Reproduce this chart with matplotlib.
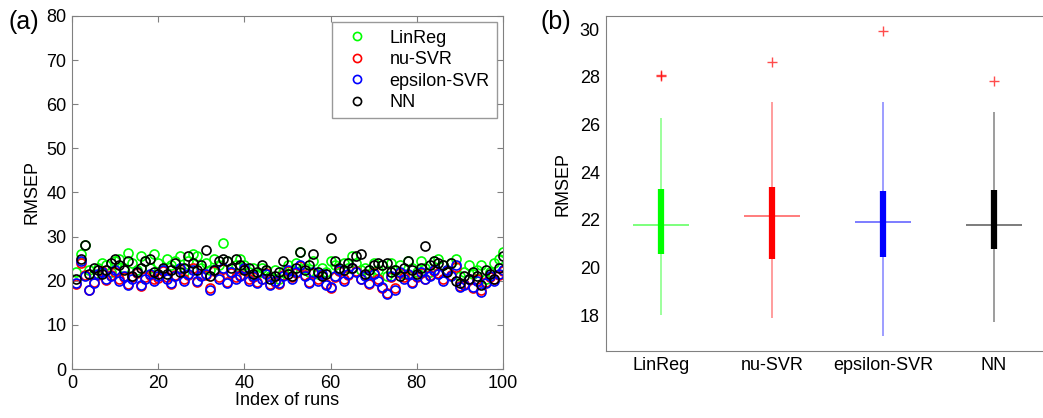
import numpy as np
import matplotlib
matplotlib.use("Agg")
import matplotlib.pyplot as plt

plt.rcParams['font.family'] = ['Liberation Sans', 'DejaVu Sans']

# ---- data ----
runs = np.arange(1, 101)

linreg = [22.0, 26.0, 28.1, 22.5, 21.5, 23.0, 24.0, 23.5, 22.0, 24.5,
          25.0, 23.0, 26.2, 24.0, 22.5, 25.5, 24.5, 23.0, 26.0, 24.0,
          22.5, 25.0, 23.5, 24.5, 25.5, 22.0, 24.5, 26.0, 25.5, 23.0,
          24.0, 22.5, 25.0, 23.5, 28.5, 24.5, 22.0, 23.5, 25.0, 23.5,
          22.0, 23.0, 21.5, 23.0, 22.5, 21.0, 22.5, 20.5, 22.0, 23.5,
          22.5, 24.0, 26.5, 23.0, 22.0, 24.5, 21.5, 23.0, 22.0, 24.5,
          23.5, 22.5, 24.0, 23.0, 25.5, 24.0, 22.5, 23.0, 21.5, 24.0,
          22.5, 23.5, 21.0, 24.0, 22.5, 23.5, 21.5, 24.5, 23.0, 22.0,
          24.5, 23.0, 22.0, 24.5, 25.0, 23.5, 22.5, 24.0, 25.0, 21.0,
          22.0, 23.5, 21.5, 22.5, 23.5, 20.5, 22.0, 24.0, 25.0, 26.5]

nu_svr = [19.3, 24.0, 21.2, 17.8, 19.8, 21.3, 22.3, 20.2, 21.3, 22.0,
          20.3, 20.8, 19.2, 20.8, 21.7, 18.8, 20.8, 21.2, 20.3, 20.7,
          22.2, 20.8, 19.3, 21.3, 22.7, 20.3, 21.2, 22.8, 19.8, 21.3,
          21.3, 18.3, 22.2, 20.8, 22.7, 19.7, 21.8, 20.8, 21.3, 22.7,
          20.3, 20.8, 19.8, 20.3, 21.8, 19.3, 19.8, 19.3, 21.3, 22.2,
          20.8, 21.8, 23.3, 21.3, 19.8, 21.8, 20.3, 21.3, 19.3, 18.3,
          20.8, 22.3, 20.3, 21.3, 22.8, 22.3, 20.3, 21.3, 19.3, 21.8,
          20.3, 18.3, 17.3, 20.8, 18.3, 21.8, 20.8, 21.3, 19.8, 20.8,
          21.8, 20.3, 21.3, 22.2, 21.8, 20.3, 22.2, 21.3, 23.2, 18.8,
          19.3, 20.3, 18.3, 20.3, 17.8, 19.8, 20.8, 20.3, 21.3, 22.3]

eps_svr = [19.5, 24.5, 21.0, 18.0, 19.5, 21.5, 22.0, 20.5, 21.0, 22.5,
           20.0, 21.0, 19.0, 20.5, 22.0, 19.0, 20.5, 21.5, 20.0, 21.0,
           22.5, 20.5, 19.5, 21.0, 23.0, 20.0, 21.5, 22.5, 20.0, 21.0,
           21.5, 18.0, 22.5, 20.5, 23.0, 19.5, 22.0, 20.5, 21.0, 23.0,
           20.0, 21.0, 19.5, 20.5, 21.5, 19.0, 20.0, 19.5, 21.0, 22.5,
           20.5, 22.0, 23.5, 21.0, 19.5, 22.0, 20.0, 21.5, 19.0, 18.5,
           21.0, 22.5, 20.0, 21.5, 23.0, 22.0, 20.5, 21.0, 19.5, 21.5,
           20.0, 18.5, 17.0, 21.0, 18.0, 22.0, 20.5, 21.5, 19.5, 21.0,
           22.0, 20.5, 21.0, 22.5, 21.5, 20.0, 22.5, 21.0, 23.5, 18.5,
           19.0, 20.5, 18.5, 20.0, 17.5, 19.5, 21.0, 20.0, 21.5, 22.5]

nn = [20.5, 25.0, 28.0, 21.5, 23.0, 22.5, 21.5, 22.5, 24.0, 25.0,
      23.5, 22.5, 24.5, 21.0, 22.0, 23.0, 24.5, 25.0, 22.0, 21.5,
      23.0, 21.5, 22.5, 24.0, 22.0, 23.0, 25.5, 24.0, 22.5, 23.5,
      27.0, 21.0, 22.5, 24.5, 25.0, 24.5, 23.0, 25.0, 23.5, 22.5,
      23.0, 21.5, 22.0, 23.5, 22.5, 20.5, 21.0, 22.0, 24.5, 21.5,
      21.0, 23.0, 26.5, 22.5, 23.5, 26.0, 22.0, 21.0, 21.5, 29.8,
      24.5, 23.0, 22.5, 24.0, 23.0, 25.5, 26.0, 21.5, 22.5, 23.5,
      24.0, 23.5, 24.0, 22.0, 22.5, 21.0, 23.0, 24.5, 22.5, 21.5,
      23.0, 27.8, 23.5, 24.5, 24.0, 23.5, 22.0, 24.0, 20.0, 19.5,
      21.0, 20.5, 22.0, 21.0, 19.0, 22.5, 21.5, 20.5, 23.0, 25.5]

methods = ['LinReg', 'nu-SVR', 'epsilon-SVR', 'NN']
colors = ['#00ff00', '#ff0000', '#0000ff', '#000000']

# box plot statistics (b)
whisk_lo = [18.0, 17.87, 17.13, 17.70]
q1 = [20.57, 20.35, 20.43, 20.79]
med = [21.78, 22.15, 21.93, 21.78]
q3 = [23.29, 23.37, 23.21, 23.26]
whisk_hi = [26.29, 26.96, 26.94, 26.54]
outliers = [[28.07, 28.04], [28.62], [29.92], [27.84]]

W, H = 1043, 418
fig = plt.figure(figsize=(W / 100, H / 100), dpi=100)
gray = '#808080'

# ---- (a) scatter ----
ax1 = fig.add_axes([72 / W, 49 / H, 431 / W, 353 / H])
for vals, lab, c in zip([linreg, nu_svr, eps_svr, nn], methods, colors):
    ax1.plot(runs, vals, 'o', mfc='none', mec=c, ms=6.5, mew=1.2, label=lab)
ax1.set_xlim(0, 100)
ax1.set_ylim(0, 80)
ax1.set_xticks(range(0, 101, 20))
ax1.set_yticks(range(0, 81, 10))
ax1.tick_params(direction='in', length=4, top=True, right=True,
                labelsize=13, color=gray)
ax1.tick_params(axis='x', pad=4)
ax1.tick_params(axis='y', pad=4)
for s in ax1.spines.values():
    s.set_color(gray)
ax1.set_xlabel('Index of runs', fontsize=13, labelpad=0)
ax1.set_ylabel('RMSEP', fontsize=13, labelpad=4)
leg = ax1.legend(loc='upper right', fontsize=13, frameon=True, fancybox=False,
                 edgecolor=gray, borderaxespad=0.35, handletextpad=0.8,
                 labelspacing=0.25, markerscale=0.9)
leg.get_frame().set_linewidth(1.0)

# ---- (b) compact boxplot ----
ax2 = fig.add_axes([605.5 / W, 67 / H, 444 / W, 335 / H])
pos = np.arange(1, 5)
ax2.vlines(pos, whisk_lo, whisk_hi, colors=colors, lw=1.2, alpha=0.45)
ax2.vlines(pos, q1, q3, colors=colors, lw=4.5)
ax2.hlines(med, pos - 0.25, pos + 0.25, colors=colors, lw=1.2, alpha=0.6)
for p, outs in zip(pos, outliers):
    ax2.plot([p] * len(outs), outs, '+', color='#ff0000', ms=7, mew=1.0, alpha=0.7)
ax2.set_xlim(0.5, 4.5)
ax2.set_ylim(16.5, 30.56)
ax2.set_xticks(pos)
ax2.set_xticklabels(methods)
ax2.set_yticks(range(18, 31, 2))
ax2.tick_params(length=0, labelsize=13, pad=4)
for s in ax2.spines.values():
    s.set_color(gray)
ax2.set_ylabel('RMSEP', fontsize=13, labelpad=6)

fig.text(8 / W, 1 - 22 / H, '(a)', fontsize=18, va='center', ha='left')
fig.text(540 / W, 1 - 22 / H, '(b)', fontsize=18, va='center', ha='left')

fig.savefig('out.png', dpi=100)
